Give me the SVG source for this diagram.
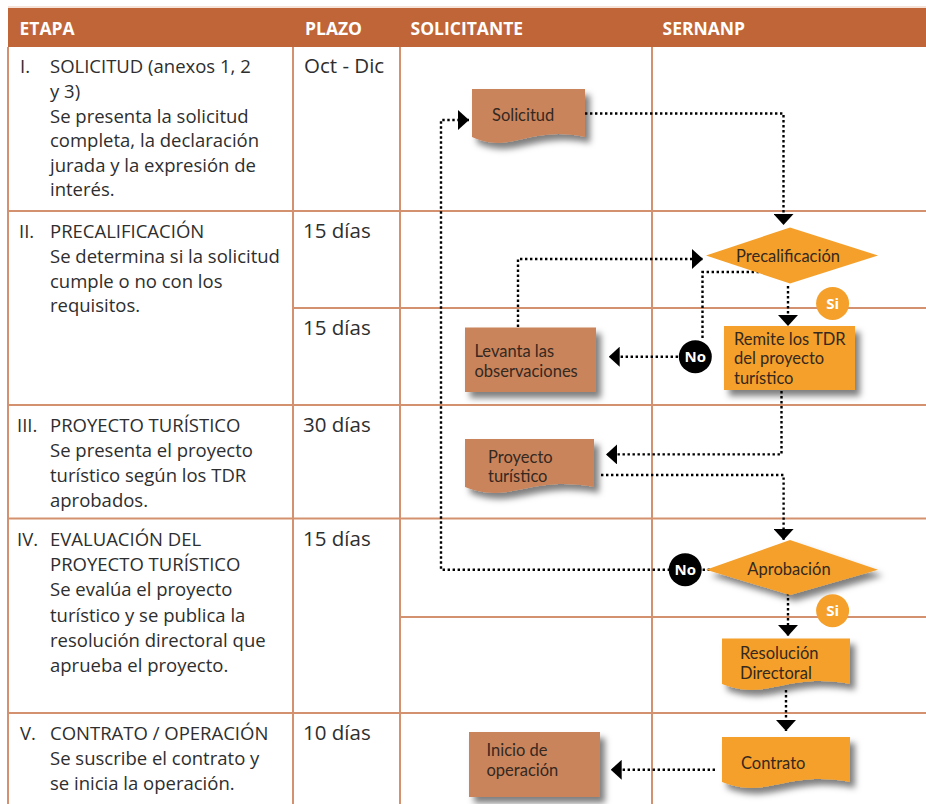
<svg xmlns="http://www.w3.org/2000/svg" width="926" height="804" viewBox="0 0 926 804">
<defs>
<style>
.grid{stroke:#d3916f;stroke-width:2;fill:none}
.hd{font-family:"Open Sans",sans-serif;font-weight:700;font-size:17.5px;fill:#fff}
.tx{font-family:"Open Sans",sans-serif;font-size:18.5px;fill:#2e2e2e}
.pz{font-family:"Open Sans",sans-serif;font-size:20.5px;fill:#2e2e2e}
.bx{font-family:Lato,"Open Sans",sans-serif;font-size:16.5px;fill:#35281f}
.sol{fill:#c9845b}
.ser{fill:#f4a02b}
.dot{fill:none;stroke:#000;stroke-width:2.4;stroke-dasharray:2.4 2.6}
.lbl{font-family:"Open Sans",sans-serif;font-weight:700;font-size:15px;fill:#fff;text-anchor:middle}
</style>
<filter id="sh" x="-20%" y="-20%" width="150%" height="170%">
<feDropShadow dx="5" dy="6" stdDeviation="3" flood-color="#000" flood-opacity="0.5"/>
</filter>
<marker id="ah" viewBox="0 0 11 20" refX="11" refY="10" markerWidth="11" markerHeight="20" markerUnits="userSpaceOnUse" orient="auto">
<path d="M0,0 L11,10 L0,20 Z" fill="#000"/>
</marker>
</defs>
<rect x="0" y="0" width="926" height="804" fill="#fff"/>

<g id="table">
<line x1="8" y1="7" x2="926" y2="7" stroke="#ebc7b3" stroke-width="1"/>
<rect x="8" y="8" width="918" height="39" fill="#bf6537"/>
<text class="hd" x="19.5" y="34.5">ETAPA</text>
<text class="hd" x="305" y="34.5">PLAZO</text>
<text class="hd" x="410.5" y="34.5">SOLICITANTE</text>
<text class="hd" x="662.5" y="34.5">SERNANP</text>
<line class="grid" x1="8" y1="47" x2="8" y2="804"/>
<line class="grid" x1="293" y1="47" x2="293" y2="804"/>
<line class="grid" x1="400" y1="47" x2="400" y2="804"/>
<line class="grid" x1="652" y1="47" x2="652" y2="804"/>
<line class="grid" x1="8" y1="211" x2="926" y2="211"/>
<line class="grid" x1="293" y1="308" x2="926" y2="308"/>
<line class="grid" x1="8" y1="405" x2="926" y2="405"/>
<line class="grid" x1="8" y1="518.5" x2="926" y2="518.5"/>
<line class="grid" x1="400" y1="617" x2="926" y2="617"/>
<line class="grid" x1="8" y1="713" x2="926" y2="713"/>

<text class="tx" x="20" y="73">I.</text>
<text class="tx" x="50" y="73">SOLICITUD (anexos 1, 2</text>
<text class="tx" x="50" y="98">y 3)</text>
<text class="tx" x="50" y="122.5">Se presenta la solicitud</text>
<text class="tx" x="50" y="147">completa, la declaración</text>
<text class="tx" x="50" y="171.5">jurada y la expresión de</text>
<text class="tx" x="50" y="196">interés.</text>

<text class="tx" x="19" y="238">II.</text>
<text class="tx" x="50" y="238">PRECALIFICACIÓN</text>
<text class="tx" x="50" y="263">Se determina si la solicitud</text>
<text class="tx" x="50" y="287.5">cumple o no con los</text>
<text class="tx" x="50" y="312">requisitos.</text>

<text class="tx" x="17" y="432">III.</text>
<text class="tx" x="50" y="432">PROYECTO TURÍSTICO</text>
<text class="tx" x="50" y="457">Se presenta el proyecto</text>
<text class="tx" x="50" y="482">turístico según los TDR</text>
<text class="tx" x="50" y="507">aprobados.</text>

<text class="tx" x="17" y="546">IV.</text>
<text class="tx" x="50" y="546">EVALUACIÓN DEL</text>
<text class="tx" x="50" y="571">PROYECTO TURÍSTICO</text>
<text class="tx" x="50" y="596">Se evalúa el proyecto</text>
<text class="tx" x="50" y="621.5">turístico y se publica la</text>
<text class="tx" x="50" y="647">resolución directoral que</text>
<text class="tx" x="50" y="672">aprueba el proyecto.</text>

<text class="tx" x="20" y="740">V.</text>
<text class="tx" x="50" y="740">CONTRATO / OPERACIÓN</text>
<text class="tx" x="50" y="765">Se suscribe el contrato y</text>
<text class="tx" x="50" y="790">se inicia la operación.</text>

<text class="pz" x="304" y="73">Oct - Dic</text>
<text class="pz" x="303" y="238">15 días</text>
<text class="pz" x="303" y="335">15 días</text>
<text class="pz" x="303" y="432">30 días</text>
<text class="pz" x="303" y="546">15 días</text>
<text class="pz" x="303" y="740">10 días</text>
</g>

<g id="connectors">
<path class="dot" d="M585,113.5 H783.5 V225" marker-end="url(#ah)"/>
<path class="dot" d="M769,272 H702.5 V340"/>
<path class="dot" d="M678,356.7 H608.7" marker-end="url(#ah)"/>
<path class="dot" d="M518,327 V259 H703" marker-end="url(#ah)"/>
<path class="dot" d="M788,286 V326" marker-end="url(#ah)"/>
<path class="dot" d="M781.5,391 V454.4 H606" marker-end="url(#ah)"/>
<path class="dot" d="M601,475 H783.6 V540" marker-end="url(#ah)"/>
<path class="dot" d="M730,569.7 H700"/>
<path class="dot" d="M670,569.7 H441 V120 H469" marker-end="url(#ah)"/>
<path class="dot" d="M788,593 V636" marker-end="url(#ah)"/>
<path class="dot" d="M786,690 V731" marker-end="url(#ah)"/>
<path class="dot" d="M715,769.8 H610.7" marker-end="url(#ah)"/>
</g>

<g id="solicitud">
<path class="sol" filter="url(#sh)" d="M472,89 H585 V137 C528.5,125 511.5,155 472,137 Z"/>
<text class="bx" x="492" y="120.5">Solicitud</text>
</g>

<g id="precalificacion">
<polygon class="ser" points="706,255.5 790,227.5 878,255.5 790,283.5"/>
<text class="bx" x="788" y="261.5" text-anchor="middle">Precalificación</text>
</g>

<g id="levanta">
<rect class="sol" filter="url(#sh)" x="465" y="327.5" width="131" height="64.5"/>
<text class="bx" x="474.5" y="356.5">Levanta las<tspan x="474.5" dy="20">observaciones</tspan></text>
</g>

<g id="remite">
<rect class="ser" filter="url(#sh)" x="724" y="326" width="131" height="64"/>
<text class="bx" x="734" y="344.5">Remite los TDR<tspan x="734" dy="19.8">del proyecto</tspan><tspan x="734" dy="19.8">turístico</tspan></text>
</g>

<g id="no1">
<circle cx="695.3" cy="356.7" r="16.5" fill="#000"/>
<text class="lbl" x="695.3" y="362">No</text>
</g>

<g id="si1">
<circle cx="832.6" cy="303.4" r="16.5" class="ser"/>
<text class="lbl" x="832.6" y="308.6">Si</text>
</g>

<g id="proyecto">
<path class="sol" filter="url(#sh)" d="M465,439 H594 V487 C529.5,475 510,505 465,487 Z"/>
<text class="bx" x="488" y="462.5">Proyecto<tspan x="488" dy="19.8">turístico</tspan></text>
</g>

<g id="aprobacion">
<polygon class="ser" filter="url(#sh)" points="706,569.7 790,540 878,569.7 790,595"/>
<text class="bx" x="789" y="575" text-anchor="middle">Aprobación</text>
</g>

<g id="no2">
<circle cx="685.2" cy="569.7" r="16.5" fill="#000"/>
<text class="lbl" x="685.2" y="575">No</text>
</g>

<g id="si2">
<circle cx="832.6" cy="610.7" r="16.5" class="ser"/>
<text class="lbl" x="832.6" y="616">Si</text>
</g>

<g id="resolucion">
<path class="ser" filter="url(#sh)" d="M722,638.5 H850 V684 C786,672 767,702 722,684 Z"/>
<text class="bx" x="740" y="659">Resolución<tspan x="740" dy="19.8">Directoral</tspan></text>
</g>

<g id="contrato">
<path class="ser" filter="url(#sh)" d="M722,737 H850 V782 C786,770 767,800 722,782 Z"/>
<text class="bx" x="741" y="768.5">Contrato</text>
</g>

<g id="inicio">
<rect class="sol" filter="url(#sh)" x="469" y="732" width="131" height="65"/>
<text class="bx" x="486.5" y="756">Inicio de<tspan x="486.5" dy="20">operación</tspan></text>
</g>
</svg>
